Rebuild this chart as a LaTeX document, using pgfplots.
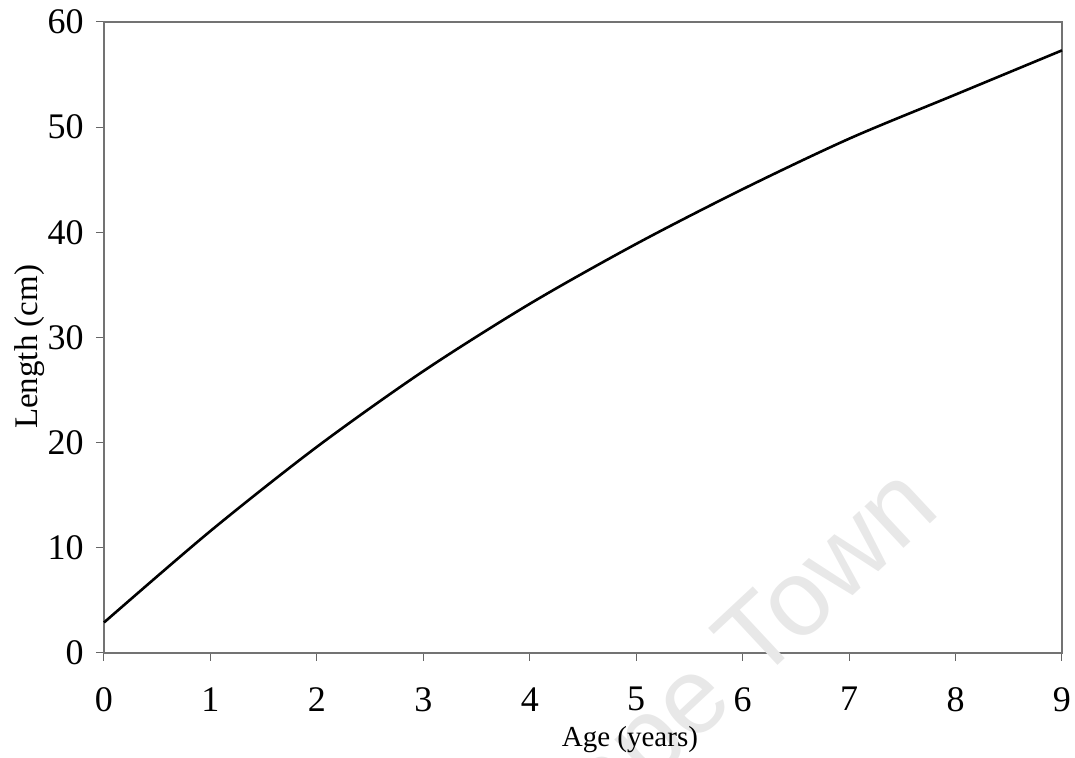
\documentclass[border=0pt]{standalone}
\usepackage{pgfplots}
\pgfplotsset{compat=1.18}
\usepackage{fontspec}
\setmainfont{Liberation Serif}
\newfontfamily\wmfont{Liberation Sans}
\begin{document}
\begin{tikzpicture}
\begin{axis}[
  name=ax,
  scale only axis,
  width=479pt, height=315.5pt,
  xmin=0, xmax=9, ymin=0, ymax=60,
  xtick={0,...,9}, ytick={0,10,...,60},
  tick align=outside,
  major tick length=4pt,
  tick style={black!60, line width=0.5pt},
  axis line style={black!55, line width=0.6pt},
  xtick pos=bottom, ytick pos=left,
  /pgf/number format/assume math mode=true,
  tick label style={font=\fontsize{18}{21}\selectfont},
  xticklabel style={anchor=north, inner sep=0pt, yshift=-13pt},
  yticklabel style={anchor=east, inner sep=0pt, xshift=-6pt},
  xlabel={Age (years)},
  ylabel={Length (cm)},
  xlabel style={font=\fontsize{14.5}{17}\selectfont, at={(axis description cs:0.549,-0.116)}, anchor=north, inner sep=0pt},
  ylabel style={font=\fontsize{16.5}{19}\selectfont, at={(axis description cs:-0.062,0.485)}, anchor=south, inner sep=0pt},
  clip=false,
]
\node[overlay, rotate=43, text=black!9, font=\wmfont\fontsize{54}{62}\selectfont] at (axis cs:5.85,-2.3) {Cape Town};
\addplot[black, line width=1.3pt, smooth] coordinates {
(0,2.9) (1,11.6) (2,19.6) (3,26.8) (4,33.2) (5,38.9) (6,44.1) (7,48.9) (8,53.1) (9,57.3)
};
\end{axis}
\pgfresetboundingbox
\path[use as bounding box] (ax.south west) ++(-52pt,-52.5pt) rectangle ++(537.5pt,379pt);
\end{tikzpicture}
\end{document}
